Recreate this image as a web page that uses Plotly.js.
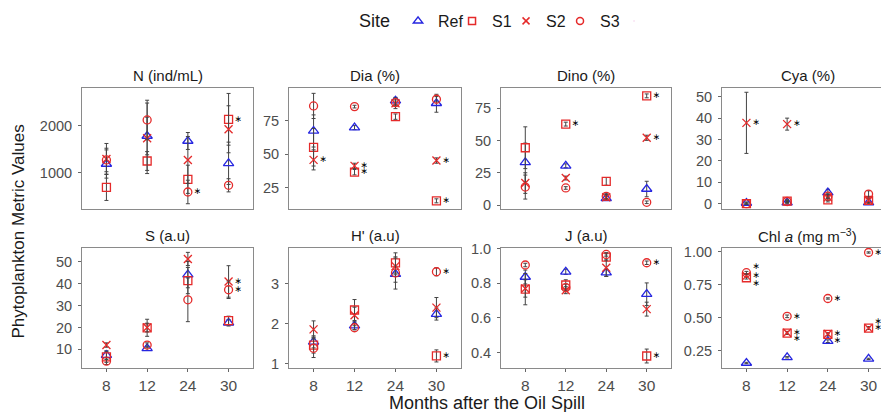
<!DOCTYPE html>
<html>
<head>
<meta charset="utf-8">
<script src="https://cdn.plot.ly/plotly-3.0.1.min.js"></script>
<style>html,body{margin:0;padding:0;background:#fff}#chart{width:881px;height:412px}</style>
</head>
<body>
<div id="chart"></div>
<script>
// ---------- data (order of inner arrays: Ref, S1, S2, S3) ----------
const months = ['8', '12', '24', '30'];
const sites = ['Ref', 'S1', 'S2', 'S3'];
const panelTitles = ['N (ind/mL)', 'Dia (%)', 'Dino (%)', 'Cya (%)',
  'S (a.u)', "H' (a.u)", 'J (a.u)', 'Chl <i>a</i> (mg m<sup>−3</sup>)'];

const N_mean = [[1191, 1787, 1681, 1206], [696, 1255, 866, 2142], [1298, 1738, 1277, 1930], [1277, 2128, 596, 738]];
const N_err  = [[300, 400, 180, 450], [280, 200, 300, 550], [330, 750, 500, 500], [250, 420, 250, 140]];
const N_sig  = [[0,0,0,0], [0,0,0,1], [0,0,0,0], [0,0,1,0]];

const Dia_mean = [[67.3, 69.8, 89.9, 88], [55.1, 36.5, 78, 15.1], [45.7, 41.2, 88, 45.2], [86, 85.5, 88.5, 91]];
const Dia_err  = [[12, 1.5, 2.5, 6.7], [14, 2, 2, 1.5], [7.5, 2, 4, 2], [9.4, 1, 2, 2]];
const Dia_sig  = [[0,0,0,0], [0,1,0,1], [1,1,0,1], [0,0,0,0]];

const Dino_mean = [[33, 30.4, 5.2, 12.4], [44.4, 62.7, 18.3, 84.6], [17, 20.9, 6, 52.1], [13.9, 13.2, 6.7, 2.1]];
const Dino_err  = [[15, 1.5, 1.5, 6], [16.2, 1.5, 3, 1.5], [8, 1.5, 2, 2], [9.3, 1, 2, 1]];
const Dino_sig  = [[0,0,0,0], [0,1,0,1], [0,0,0,1], [0,0,0,0]];

const Cya_mean = [[0.3, 0.5, 5.2, 0.5], [0, 1.2, 1.8, 1.5], [37.8, 37.2, 3, 1.5], [0, 1, 3.5, 4.5]];
const Cya_err  = [[0.5, 0.5, 1.5, 0.5], [0.3, 0.6, 1, 1], [14.3, 2.8, 1.5, 1], [0.3, 0.5, 1, 1.5]];
const Cya_sig  = [[0,0,0,0], [0,0,0,0], [1,1,0,0], [0,0,0,0]];

const S_mean = [[7.4, 10.5, 44.2, 22.2], [6.6, 19.9, 41.5, 23.2], [12, 20, 51.4, 41.1], [4.6, 12, 32.7, 37.3]];
const S_err  = [[2, 1, 6, 1.5], [2.5, 3.9, 6, 2], [1, 2, 3, 7.2], [1.5, 1, 10, 4]];
const S_sig  = [[0,0,0,0], [0,0,0,0], [0,0,0,1], [0,0,0,1]];

const H_mean = [[1.55, 1.95, 3.23, 2.24], [1.47, 2.34, 3.51, 1.2], [1.86, 2.21, 3.43, 2.4], [1.39, 1.9, 3.26, 3.29]];
const H_err  = [[0.15, 0.1, 0.2, 0.15], [0.2, 0.26, 0.25, 0.15], [0.21, 0.2, 0.2, 0.25], [0.23, 0.05, 0.4, 0.1]];
const H_sig  = [[0,0,0,0], [0,0,0,1], [0,0,0,0], [0,0,0,1]];

const J_mean = [[0.836, 0.866, 0.861, 0.737], [0.766, 0.79, 0.95, 0.381], [0.77, 0.76, 0.889, 0.651], [0.905, 0.775, 0.966, 0.918]];
const J_err  = [[0.04, 0.015, 0.02, 0.065], [0.09, 0.03, 0.02, 0.04], [0.05, 0.02, 0.05, 0.04], [0.01, 0.02, 0.01, 0.01]];
const J_sig  = [[0,0,0,0], [0,0,0,1], [0,0,0,0], [0,0,0,1]];

const Chl_mean = [[0.156, 0.199, 0.321, 0.187], [0.801, 0.382, 0.372, 0.42], [0.815, 0.385, 0.375, 0.42], [0.839, 0.509, 0.644, 0.992]];
const Chl_err  = [[0.005, 0.005, 0.01, 0.005], [0.01, 0.01, 0.01, 0.01], [0.01, 0.01, 0.01, 0.01], [0.01, 0.01, 0.005, 0.005]];
const Chl_sig  = [[0,0,0,0], [1,1,1,1], [1,1,1,1], [1,1,1,1]];

// ---------- styling ----------
const W = 881, H = 412;
const colPx = [[82, 253], [289, 461], [501, 671], [722, 881]];
const rowPx = [[88, 209], [248, 368]];
const yRanges = [[234, 2808], [9, 99.4], [-3.1, 90.7], [-2.5, 54.1], [1.5, 56.4], [0.9, 3.88], [0.312, 1.003], [0.118, 1.026]];
const yDtick = [1000, 25, 25, 10, 10, 1, 0.2, 0.25];
const yFmt = ['', '', '', '', '', '', '.1f', '.2f'];
const symbols = ['triangle-up-open', 'square-open', 'x-thin-open', 'circle-open'];
const colors = ['#2626e0', '#e52a2a', '#e52a2a', '#e52a2a'];
const sizes = [9, 8, 8, 8];
const STAR = '∗';
const STAR_LOW = '\u00a0<br>∗';   // drops the star half a line when it would sit on the S2 star
const STAR_HIGH = '∗<br>\u00a0';  // lifts the star half a line when it would sit on the S2 star

const means = [N_mean, Dia_mean, Dino_mean, Cya_mean, S_mean, H_mean, J_mean, Chl_mean];
const errs = [N_err, Dia_err, Dino_err, Cya_err, S_err, H_err, J_err, Chl_err];
const sigs = [N_sig, Dia_sig, Dino_sig, Cya_sig, S_sig, H_sig, J_sig, Chl_sig];

const traces = [];
const layout = {
  width: W, height: H,
  margin: {l: 0, r: 0, t: 0, b: 0},
  paper_bgcolor: '#fff', plot_bgcolor: '#fff',
  font: {family: 'Liberation Sans, Arial, sans-serif', color: '#4d4d4d'},
  showlegend: true,
  legend: {
    orientation: 'h', x: 357 / W, xanchor: 'left', y: 1 - 21 / H, yanchor: 'middle',
    font: {size: 16, color: '#1a1a1a'},
    title: {text: 'Site', font: {size: 18, color: '#1a1a1a'}},
    itemwidth: 30, entrywidth: 9, entrywidthmode: 'pixels', bgcolor: 'rgba(0,0,0,0)'
  },
  annotations: []
};

for (let p = 0; p < 8; p++) {
  const r = Math.floor(p / 4), c = p % 4;
  const ax = p === 0 ? '' : String(p + 1);
  const unitPx = (253 - 82) / 4.2;
  const xr = c === 3 ? [-0.6, -0.6 + (colPx[c][1] - colPx[c][0]) / unitPx] : [-0.6, 3.6];
  const pxPerUnit = (rowPx[r][1] - rowPx[r][0]) / (yRanges[p][1] - yRanges[p][0]);
  layout['xaxis' + ax] = {
    domain: [colPx[c][0] / W, colPx[c][1] / W],
    anchor: 'y' + ax, type: 'category', range: xr,
    showgrid: false, zeroline: false,
    showline: true, mirror: true, linecolor: '#8a8a8a', linewidth: 1,
    ticks: r === 1 ? 'outside' : '', ticklen: 3, tickcolor: '#666',
    showticklabels: r === 1, tickfont: {size: 15.5, color: '#4d4d4d'},
    fixedrange: true
  };
  layout['yaxis' + ax] = {
    domain: [1 - rowPx[r][1] / H, 1 - rowPx[r][0] / H],
    anchor: 'x' + ax, range: yRanges[p],
    showgrid: false, zeroline: false,
    showline: true, mirror: c !== 3, linecolor: '#8a8a8a', linewidth: 1,
    ticks: 'outside', ticklen: 3, tickcolor: '#666',
    dtick: yDtick[p], tick0: 0, tickformat: yFmt[p],
    tickfont: {size: 14.5, color: '#4d4d4d'}, ticklabelstandoff: 3,
    fixedrange: true
  };
  layout.annotations.push({
    text: panelTitles[p], xref: 'paper', yref: 'paper',
    x: (colPx[c][0] + (c === 3 ? 893 : colPx[c][1])) / 2 / W,
    y: 1 - (r === 0 ? 75 : 235) / H, xanchor: 'center', yanchor: 'middle',
    showarrow: false, font: {size: 15, color: '#1a1a1a'}
  });
  for (let s = 0; s < 4; s++) {
    const starText = sigs[p][s].map((v, i) => {
      if (!v) return '';
      const clash = s !== 2 && sigs[p][2][i] &&
        Math.abs(means[p][s][i] - means[p][2][i]) * pxPerUnit < 6;
      if (!clash) return STAR;
      return means[p][s][i] < means[p][2][i] ? STAR_LOW : STAR_HIGH;
    });
    traces.push({
      type: 'scatter', mode: 'markers+text',
      x: months, y: means[p][s],
      xaxis: 'x' + ax, yaxis: 'y' + ax,
      error_y: {type: 'data', array: errs[p][s], visible: true, color: '#444', thickness: 1, width: 2},
      marker: {symbol: symbols[s], size: sizes[s], color: colors[s], line: {width: 1.3, color: colors[s]}},
      text: starText, textposition: 'middle right',
      textfont: {size: 9, color: '#000000', family: 'DejaVu Sans'},
      cliponaxis: false,
      showlegend: false, hoverinfo: 'skip'
    });
  }
}
// legend entries
for (let s = 0; s < 4; s++) {
  traces.push({
    type: 'scatter', mode: 'markers', x: [null], y: [null], name: sites[s],
    marker: {symbol: symbols[s], size: sizes[s] - 1, color: colors[s], line: {width: 1.5, color: colors[s]}},
    showlegend: true
  });
}
// invisible spacer entry so the last legend label is not clipped
traces.push({
  type: 'scatter', mode: 'markers', x: [null], y: [null], name: ' ',
  marker: {size: 1, opacity: 0}, showlegend: true
});
layout.annotations.push({
  text: 'Phytoplankton Metric Values', xref: 'paper', yref: 'paper',
  x: 18 / W, y: 1 - 231.5 / H, xanchor: 'center', yanchor: 'middle', textangle: -90,
  showarrow: false, font: {size: 17, color: '#1a1a1a'}
});
layout.annotations.push({
  text: 'Months after the Oil Spill', xref: 'paper', yref: 'paper',
  x: 486.5 / W, y: 1 - 403 / H, xanchor: 'center', yanchor: 'middle',
  showarrow: false, font: {size: 18, color: '#1a1a1a'}
});

Plotly.newPlot('chart', traces, layout, {staticPlot: true, displayModeBar: false});
</script>
</body>
</html>
